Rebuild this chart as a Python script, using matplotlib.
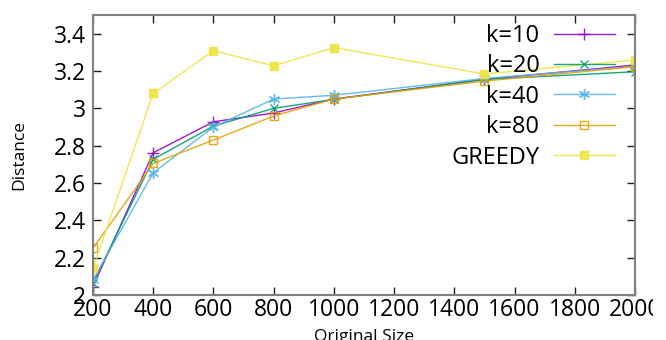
import matplotlib
matplotlib.use("Agg")
import matplotlib.pyplot as plt
from matplotlib.patches import Rectangle

sizes = [200, 400, 600, 800, 1000, 1500, 2000]
k10 = [2.045, 2.762, 2.928, 2.975, 3.050, 3.155, 3.232]
k20 = [2.065, 2.727, 2.905, 3.000, 3.048, 3.155, 3.196]
k40 = [2.080, 2.655, 2.900, 3.050, 3.070, 3.160, 3.225]
k80 = [2.250, 2.705, 2.830, 2.959, 3.050, 3.146, 3.223]
greedy = [2.143, 3.080, 3.309, 3.228, 3.325, 3.184, 3.259]

labels = ["k=10", "k=20", "k=40", "k=80", "GREEDY"]
xticks = [200, 400, 600, 800, 1000, 1200, 1400, 1600, 1800, 2000]
yticks = [2, 2.2, 2.4, 2.6, 2.8, 3, 3.2, 3.4]
ytick_labels = ["2", "2.2", "2.4", "2.6", "2.8", "3", "3.2", "3.4"]

plt.rcParams['font.family'] = ['Open Sans', 'DejaVu Sans']

fig = plt.figure(figsize=(6.66, 3.40), dpi=100)
ax = fig.add_axes([93/666, 45/340, (635-93)/666, (295-15)/340])

styles = [
    dict(color="#9400d3", marker="+", ms=8, mew=1.0, mfc="none"),
    dict(color="#009e73", marker="x", ms=6, mew=1.0, mfc="none"),
    dict(color="#56b4e9", marker=(6, 2, 0), ms=8, mew=1.0, mfc="none"),
    dict(color="#e69f00", marker="s", ms=6, mew=1.0, mfc="none"),
    dict(color="#f0e442", marker="s", ms=6, mew=1.0),
]
for ys, lab, st in zip([k10, k20, k40, k80, greedy], labels, styles):
    ax.plot(sizes, ys, lw=1.0, label=lab, alpha=0.9, **st)

ax.set_xlim(200, 2000)
ax.set_ylim(2, 3.5)
ax.set_xticks(xticks)
ax.set_xticklabels([str(t) for t in xticks])
ax.set_yticks(yticks)
ax.set_yticklabels(ytick_labels)
ax.tick_params(direction="in", length=6, width=1, colors="#202020", labelsize=16.5,
               top=True, right=True, labelcolor="black")
ax.tick_params(axis="x", pad=2)
ax.tick_params(axis="y", pad=5)
for s in ax.spines.values():
    s.set_color("#808080")
    s.set_linewidth(1.5)

ax.set_xlabel("Original Size", fontsize=12.5, labelpad=5)
ax.set_ylabel("Distance", fontsize=12.5, labelpad=19)

leg = ax.legend(loc="upper right", bbox_to_anchor=(615/666, 1-24/340),
                bbox_transform=fig.transFigure, frameon=False, fontsize=17,
                markerfirst=False, handlelength=2.6, handletextpad=0.6,
                labelspacing=0.27, borderpad=0, borderaxespad=0, numpoints=1)
for t in leg.get_texts():
    t.set_ha("right")

fig.patches.append(Rectangle((653/666, 0), 13/666, 1, transform=fig.transFigure,
                             facecolor="white", edgecolor="none", zorder=10))

fig.savefig("out.png", dpi=100)
